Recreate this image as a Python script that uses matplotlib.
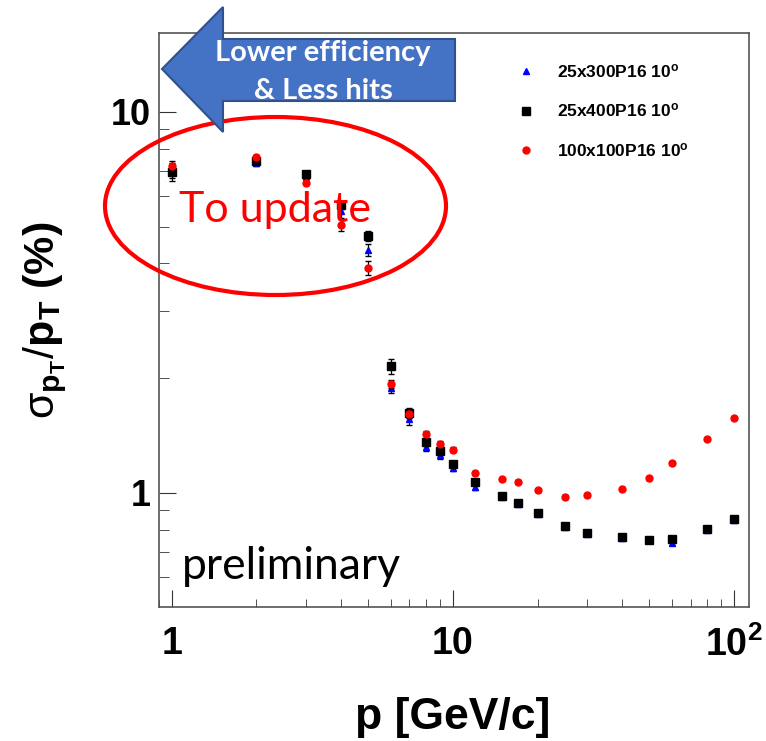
import matplotlib
matplotlib.use("Agg")
import matplotlib.pyplot as plt
from matplotlib.patches import Polygon, Ellipse
from matplotlib.ticker import FixedLocator, FixedFormatter, NullFormatter

plt.rcParams['mathtext.fontset'] = 'custom'
plt.rcParams['mathtext.rm'] = 'Liberation Sans'
plt.rcParams['mathtext.bf'] = 'Liberation Sans:bold'
plt.rcParams['mathtext.it'] = 'Liberation Sans:italic'
plt.rcParams['font.family'] = ['Liberation Sans', 'DejaVu Sans']

W, H = 766, 741

# momentum points [GeV/c]
p = [1, 2, 3, 4, 5, 6, 7, 8, 9, 10, 12, 15, 17, 20, 25, 30, 40, 50, 60, 80, 100]

# sigma_pT / pT [%]
res_25x300 = [7.0, 7.33, 6.8, 5.48, 4.34, 1.89, 1.56, 1.32, 1.26, 1.16, 1.035,
              0.975, 0.935, 0.878, 0.812, 0.78, 0.762, 0.752, 0.741, 0.80, 0.85]
res_25x400 = [6.95, 7.45, 6.86, 5.70, 4.73, 2.15, 1.62, 1.36, 1.29, 1.19, 1.07,
              0.982, 0.943, 0.888, 0.819, 0.784, 0.766, 0.753, 0.757, 0.806, 0.856]
res_100x100 = [7.19, 7.6, 6.52, 5.05, 3.89, 1.93, 1.61, 1.43, 1.345, 1.30, 1.13,
               1.086, 1.069, 1.016, 0.976, 0.986, 1.026, 1.093, 1.197, 1.386, 1.57]

err_25x300 = [0.3, 0.12, 0.12, 0.2, 0.15, 0.06, 0.05, 0.03, 0.03, 0.02, 0.015,
              0.01, 0.01, 0.01, 0.01, 0.01, 0.01, 0.01, 0.01, 0.01, 0.01]
err_25x400 = [0.38, 0.12, 0.1, 0.15, 0.14, 0.10, 0.05, 0.03, 0.03, 0.02, 0.015,
              0.01, 0.01, 0.01, 0.01, 0.01, 0.01, 0.01, 0.01, 0.01, 0.01]
err_100x100 = [0.25, 0.12, 0.1, 0.17, 0.16, 0.05, 0.04, 0.02, 0.02, 0.02, 0.015,
               0.01, 0.01, 0.01, 0.01, 0.01, 0.01, 0.01, 0.01, 0.01, 0.01]

labels = [r"25x300P16 10$^{\mathbf{o}}$", r"25x400P16 10$^{\mathbf{o}}$",
          r"100x100P16 10$^{\mathbf{o}}$"]


def fx(x):
    return x / W


def fy(y):
    return 1 - y / H


fig = plt.figure(figsize=(W / 100, H / 100), dpi=100)
ax = fig.add_axes([fx(159), fy(607), (749 - 159) / W, (607 - 33) / H])

c1 = ax.errorbar(p, res_25x300, yerr=err_25x300, fmt='^', color='#0000ff', ms=5,
                 ecolor='black', elinewidth=0.9, capsize=2.5, zorder=3)
c2 = ax.errorbar(p, res_25x400, yerr=err_25x400, fmt='s', color='black', ms=5.3,
                 ecolor='black', elinewidth=0.9, capsize=2.5, zorder=4)
c3 = ax.errorbar(p, res_100x100, yerr=err_100x100, fmt='o', color='#ff0000', ms=5,
                 ecolor='black', elinewidth=0.9, capsize=2.5, zorder=5)

ax.set_xscale("log")
ax.set_yscale("log")
ax.set_xlim(0.9, 113)
ax.set_ylim(0.502, 16.1)

ax.xaxis.set_major_locator(FixedLocator([1, 10, 100]))
ax.xaxis.set_major_formatter(FixedFormatter(["1", "10", r"$\mathbf{10^{2}}$"]))
ax.xaxis.set_minor_formatter(NullFormatter())
ax.yaxis.set_major_locator(FixedLocator([1, 10]))
ax.yaxis.set_major_formatter(FixedFormatter(["1", "10"]))
ax.yaxis.set_minor_formatter(NullFormatter())

for s in ax.spines.values():
    s.set_color('#555555')
    s.set_linewidth(1.2)

ax.tick_params(which='both', direction='in', top=False, right=False, color='#333333')
ax.tick_params(axis='x', which='major', length=12, pad=14, labelsize=27)
ax.tick_params(axis='x', which='minor', length=6)
ax.tick_params(axis='y', which='major', length=12, pad=6, labelsize=26)
ax.tick_params(axis='y', which='minor', length=7)
for lab in ax.get_xticklabels() + ax.get_yticklabels():
    lab.set_fontweight('bold')

fig.text(fx(453), fy(729), "p [GeV/c]", ha='center', va='baseline',
         fontsize=32, fontweight='bold')
fig.text(fx(45), fy(320),
         r"$\mathrm{\sigma}_{\mathbf{p}_{\mathbf{T}}}/\mathbf{p}_{\mathbf{T}}$ (%)",
         rotation=90, ha='center', va='center', fontsize=31, fontweight='bold')

fig.legend(handles=[c1[0], c2[0], c3[0]], labels=labels,
           loc='upper left', bbox_to_anchor=(fx(517), fy(62)),
           frameon=False, prop={'weight': 'bold', 'size': 12.5},
           handlelength=1.0, handletextpad=1.3, labelspacing=1.25,
           borderpad=0, borderaxespad=0)

# overlay annotations
arrow = [(162, 69), (223, 7), (223, 39), (455, 39), (455, 101), (223, 101), (223, 132)]
fig.add_artist(Polygon([(fx(x), fy(y)) for x, y in arrow], closed=True,
                       transform=fig.transFigure, facecolor='#4472C4',
                       edgecolor='#2F528F', linewidth=1.5, zorder=10))
fig.text(fx(323), fy(61), "Lower efficiency", ha='center', va='baseline',
         color='white', fontsize=21, fontweight='bold', family='Lato', zorder=11)
fig.text(fx(323), fy(99), "& Less hits", ha='center', va='baseline',
         color='white', fontsize=21, fontweight='bold', family='Lato', zorder=11)

fig.add_artist(Ellipse((fx(275.5), fy(206)), 341 / W, 178 / H,
                       transform=fig.transFigure, fill=False,
                       edgecolor='#ff0000', linewidth=3, zorder=9))
fig.text(fx(275), fy(222), "To update", ha='center', va='baseline',
         color='#ff0000', fontsize=31, family='Lato', zorder=11)
fig.text(fx(182), fy(579), "preliminary", ha='left', va='baseline',
         color='black', fontsize=32, family='Lato', zorder=11)

fig.savefig("out.png", dpi=100)
